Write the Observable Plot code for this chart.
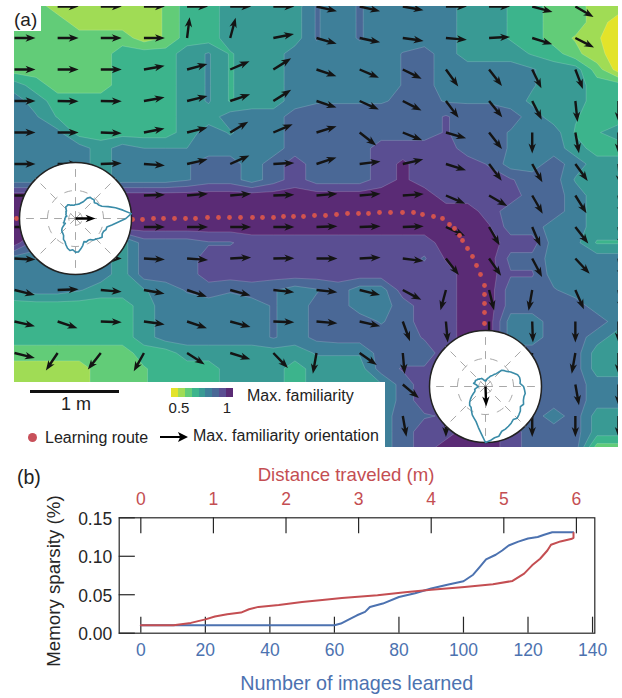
<!DOCTYPE html>
<html><head><meta charset="utf-8">
<script src="https://cdn.jsdelivr.net/npm/d3@7"></script>
<script src="https://cdn.jsdelivr.net/npm/@observablehq/plot@0.6"></script>
<style>
html,body{margin:0;padding:0;background:#fff;font-family:"Liberation Sans",Arial,sans-serif;color:#222}
#page{position:relative;width:622px;height:698px;overflow:hidden}
#page svg{display:block}
.abs{position:absolute;white-space:nowrap;line-height:1}
</style></head><body><div id="page"></div>
<script>
// familiarity level on a 29 x 29 sampling of the floor (1 = lowest band, 9 = highest band)
const familiarityGrid = [
[3,3,2,2,2,2,2,2.6,4,4,5,5,5,5,6.6,6,6.6,6,6,6,6,5,5,4.4,4,3,3,2,2],
[3,3,3,2,2,2,2,2.6,4,4,5,5,5,5,6.6,6,6.6,6,6,6,6,5,5,4.4,4,3,3,2,1],
[3,3,3,3,3,3,2,2.6,4,4,5,5,5,5,6.6,6,6.6,6,6,6,6,5,5,4.4,4,3,2.4,1.6,1],
[3,3,3,3,3,4,4,4,5,5.6,4.4,5,5,6,6,6,6,6,6.55,6.9,6,5,5,5,4.4,4,2.8,1.8,1],
[3,3,3,3,3,4,4,4,5,5.6,4.4,5,5,6,6,6,6,6,6.55,6.9,6,6,6,6,5.6,5,5,3,1],
[5,4,3,3,3,4,4,4,5,5.6,4.4,5,5,6,6,6,6,6,6.55,6.9,6,6,6,6,5.6,5,5,4,4],
[6,5,4,4,4,4,4,4,5,5.6,4.4,5,5,6,6.4,6.4,6.4,6.4,6.7,6.9,6.4,6.4,6.4,6,5.3,5,5,4,4],
[6,5.6,4.4,4,4,4,4,4,5,5,6,6,6,7,7,7,7,7,7,7,7.6,7,7,7,6,5,4.6,4,4],
[6,6,5.8,4,4,4,4,4,5,6,5.4,6,6,7,7,7,7,7,7,7,7.6,7,7,6.4,6,6,4.4,4.4,5],
[6,6,6,6,5,6,5.5,5.5,5.5,6,6,6,6,7,7,7,7,8,8,8,8,7,7,6.4,6,6,5,4,4],
[6,6,6,6,5,6,6,6,6.4,7,7,6,7,8,7,7,7,8,8.7,8,8,8,7.4,6,6,7,6,5,5],
[6,6,6,6,5,6,6,6,6.4,7,7,6,7,8,7,7,7,8,8.7,8,8,8,8,7.6,7,7,5.4,5,5],
[9,9,9,9,9,9,9,9,9,9,9,9,9,9,9,9,9,9,9,9,8,8,8,8,7,7,6,5,5],
[9,9,9,9,9,9,9,9,9,9,9,9,9,9,9,9,9,9,9,9,9,9,8,7,7,7,6,5,5],
[9,9,9,9,9,9,9,9,9,9,9,9,9,9,9,9,9,9,9,9,9,9,8.6,7,7,6,6,5,5],
[9,7,6,6,6,5,7,7,7,7.4,7.4,8,8,8,8,8,8,8,8,8,9,9,9,8,8,6,5.8,4.4,4.4],
[6,6,6,6,6,5,7,7,7,8,8,8,8,8,8,8,8,8,8,7.4,8.6,9,9,7.2,7.2,6,6,6,6],
[6,6,6,6,6,5,7,7,7,8,8,8,8,8,8,8,8,8,7.6,8,8,9,9,7.6,7.6,6,6,6,6],
[5.5,6,6,5.6,5,5,5.4,6,6.6,7,6.6,7,6.6,6,6.4,7,6,6,8,8,8,9,9,7,7,6.6,6,6,6],
[4,4,4,4,4,4,5,6,6,6,6,6,6.6,6,6.8,7,6,6,7,8,8,9,9,7,7,7,7,6,6],
[4,4,4,4,4,4,5,6,6,6,6,6,6.6,6,6.8,7,7,6.4,7,8,8,9,9,6,6,7,7,7,6],
[4,4,4,4,4,4,5,6,6,6,6,6,6.6,6,6.8,7,7,7,7,7.6,8,9,9,6,6,7,7,6,5],
[3,3,3,3,3,3,4,4,5,5,5,5,5,5,5.6,5.6,5.6,7,7,7,8,9,9,7,7,7,7,5,5],
[2,2,2,2,3,3,3.4,4,4,4,5,5,5,4,5,5,5,7,7.6,7.6,8,9,9,7,7,7,7,5,5],
[2,2,2,2,3,3,3.4,4,4,4,5,5,5,4,5,5,5,5.4,7,8,8,9,9,7,7,7,7,6,6],
[2,2,2,2,3,3,3.4,4,4,4,5,5,5,4,5,5,5,5.4,7,8,8,9,9,7,7,7,7,6,6],
[2,2,2,2,3,3,3.4,4,4,4,5,5,5,4,5,5,5,6,7,7.4,7.6,9,9,7,7,6,7,5,5],
[2,2,2,2,3,3,3.4,4,4,4,5,5,5,4,5,5,5,6,7,8,8,9,9,8,7,7,7,5,5],
[2,2,2,2,3,3,3.4,4,4,4,5,5,5,4,5,5,5,6,7,8,9,9,9,8,7,7,7,3,3]
];
const bandEdges = [1.5,2.5,3.5,4.5,5.5,6.5,7.5,8.5];
const bandColors = ["#e3e32a","#a0dc55","#62cc78","#3cb48c","#399a94","#3e7f99","#4a6896","#5a4e92","#5a2b75"];

// max-familiarity heading at each 15 x 15 floor sample, degrees clockwise from north
const headingGrid = [
[90,90,90,90,90,90,90,103,103,100,90,90,105,120,100],
[90,90,90,90,7,15,79,106,102,98,95,87,107,117,100],
[90,90,90,80,75,67,58,109,113,116,144,142,154,159,100],
[90,91,91,80,76,71,58,108,114,117,143,141,153,174,180],
[90,90,92,79,76,59,67,73,128,112,106,142,180,170,180],
[90,90,88,94,77,66,87,72,83,77,107,143,151,144,175],
[90,90,90,88,85,85,88,85,85,86,113,120,150,148,170],
[90,90,90,90,90,90,90,88,88,88,115,150,157,142,170],
[93,90,90,93,94,87,89,90,87,97,142,145,152,137,170],
[104,88,95,100,109,105,96,96,104,118,195,166,190,156,170],
[103,109,92,98,109,105,92,95,103,160,175,180,178,180,180],
[104,214,218,209,123,107,136,190,125,175,180,180,190,190,180],
[100,120,120,120,120,110,120,180,130,130,180,180,180,170,180],
[100,120,120,120,120,110,120,170,170,170,180,180,180,180,180],
[180,180,180,180,180,180,180,180,180,180,180,180,180,180,180]
];

// learning route along the floor
const routeX = [2,13,24,35,46,57,68,79,90,101,112,118,128,139,149,160,171,181,193,204,215,226,238,248,259,269,279,289,300,311,322,333,344,354,365,376,388,399,408,419,428,435,440,445,448,453,458,462,466,470,470,470,470,470,470,470,470,470,470];
const routeY = [212,212,212,212,212,212,212,212,212,212,212,213,213,212,212,212,212,212,211,211,211,211,211,211,211,210,210,210,209,209,208,207,207,207,206,206,206,206,208,210,212,218,222,229,234,242,250,259,268,279,288,297,306,317,328,339,350,361,372];

// polar insets: familiarity by orientation (degrees anticlockwise from east), relative radius
const polarAngles = d3.range(0, 360, 5);
const polarStart = [.9,1,.86,.74,.62,.52,.48,.47,.44,.47,.46,.46,.42,.33,.3,.27,.26,.25,.25,.24,.24,.25,.25,.27,.28,.27,.27,.24,.21,.21,.19,.19,.18,.16,.18,.18,.19,.19,.2,.21,.23,.2,.24,.29,.32,.34,.35,.37,.43,.45,.5,.55,.58,.56,.6,.6,.55,.5,.44,.46,.45,.46,.5,.52,.55,.58,.55,.55,.58,.58,.66,.76];
const polarEnd = [.68,.62,.63,.63,.61,.56,.52,.47,.44,.41,.3,.26,.22,.2,.17,.15,.13,.1,.1,.1,.11,.12,.14,.16,.16,.17,.17,.19,.19,.2,.21,.2,.21,.22,.16,.15,.13,.14,.17,.2,.2,.21,.25,.3,.35,.4,.44,.45,.5,.56,.6,.65,.74,.85,1,.97,.93,.92,.85,.84,.82,.8,.77,.8,.78,.76,.72,.75,.72,.71,.72,.7];
const insetNames = ["start","end"];
const insetX = [61,471];
const insetY = [212,380];
const insetHeading = [90,178];
const insetRadius = 56;

// panel (b)
const blueImages = [0,60,62,65,67,69.5,71,75,80,85,90,95,100,103,105,107,110,112,114,117,120,123,125,127.5,134];
const blueSparsity = [.0103,.0103,.0125,.019,.0233,.0277,.034,.0385,.047,.052,.058,.063,.0675,.076,.086,.096,.102,.1075,.114,.119,.123,.125,.128,.1312,.1312];
const redDistance = [0,.45,.69,.89,1.02,1.19,1.38,1.49,1.62,1.9,2.22,2.5,2.77,3.26,3.64,4,4.46,4.85,5.12,5.28,5.39,5.5,5.6,5.65,5.78,5.94,5.96,5.96];
const redSparsity = [.0104,.0104,.0134,.018,.0216,.0246,.0268,.0311,.0342,.0367,.0406,.0432,.0458,.0493,.0532,.0566,.0601,.0636,.0679,.0774,.0882,.0968,.1075,.115,.1193,.1228,.124,.1306];
const imageTicks = [0,20,40,60,80,100,120,140];
const distanceTicks = [0,1,2,3,4,5,6];
const sparsityTicks = [0,.05,.1,.15];
const imagesPerMeter = 22.5;
const blue = "#4c72b0", red = "#c44e52", ink = "#262626";

const arrowShape = {draw(c, l) {
  c.moveTo(-1.2, 0); c.lineTo(1.2, 0); c.lineTo(1.2, -l + 8);
  c.lineTo(3.7, -l + 10); c.lineTo(0, -l); c.lineTo(-3.7, -l + 10);
  c.lineTo(-1.2, -l + 8); c.closePath();
}};

const stepX = 604 / 14, stepY = 441 / 14;
const headings = headingGrid.flatMap((row, j) => row.map((heading, i) => ({x: i * stepX, y: j * stepY, heading})));
const route = routeX.map((x, i) => ({x, y: routeY[i]}));
const insets = insetNames.map((name, k) => ({name, x: insetX[k], y: insetY[k], heading: insetHeading[k]}));
const polar = (k, deg, r) => ({
  x: insetX[k] + r * insetRadius * Math.cos(deg * Math.PI / 180),
  y: insetY[k] - r * insetRadius * Math.sin(deg * Math.PI / 180)
});
const outlines = [polarStart, polarEnd].flatMap((series, k) => series.map((r, i) => ({...polar(k, polarAngles[i], r), z: k})));
const spokes = insets.flatMap((_, k) => d3.range(0, 360, 45).flatMap(a => [0, 1].map(r => ({...polar(k, a, r), z: `${k}-${a}`}))));
const rings = insets.flatMap((_, k) => [.5, .12].flatMap(r => polarAngles.concat(360).map(a => ({...polar(k, a, r), z: `${k}-${r}`}))));

const mapPlot = Plot.plot({
  width: 622, height: 458, marginLeft: 14, marginRight: 4, marginTop: 6, marginBottom: 11,
  x: {domain: [0, 604], axis: null},
  y: {domain: [0, 441], axis: null, reverse: true},
  color: {type: "threshold", domain: bandEdges, range: bandColors},
  marks: [
    Plot.contour(familiarityGrid.flat(), {
      width: 29, height: 29, x1: -stepX / 4, x2: 604 + stepX / 4, y1: -stepY / 4, y2: 441 + stepY / 4,
      fill: Plot.identity, thresholds: [0, ...bandEdges], stroke: "#fff", strokeOpacity: .28, strokeWidth: .6, clip: true
    }),
    Plot.vector(headings, {x: "x", y: "y", rotate: "heading", length: 21, anchor: "start", shape: arrowShape, fill: "#141414", stroke: "none", clip: true}),
    Plot.dot(route, {x: "x", y: "y", r: 2.4, fill: "#d2534f", clip: true}),
    Plot.dot(insets, {x: "x", y: "y", r: insetRadius, fill: "#fff", stroke: "#222", strokeWidth: 1.5}),
    Plot.line(spokes, {x: "x", y: "y", z: "z", stroke: "#a8a8a8", strokeWidth: 1, strokeDasharray: "7 7"}),
    Plot.line(rings, {x: "x", y: "y", z: "z", stroke: "#a8a8a8", strokeWidth: 1, strokeDasharray: "7 9"}),
    Plot.line(outlines, {x: "x", y: "y", z: "z", curve: "linear-closed", stroke: "#3a8ca8", strokeWidth: 1.6}),
    Plot.vector(insets, {x: "x", y: "y", rotate: "heading", length: 20, anchor: "start", shape: arrowShape, fill: "#000", stroke: "none"})
  ]
});

const x0 = -6.7, tickLen = .0208;
const sparsityPlot = Plot.plot({
  width: 622, height: 243, marginLeft: 118.7, marginRight: 27.7, marginTop: 62.3, marginBottom: 65.3,
  style: {fontFamily: '"Liberation Sans", Arial, sans-serif', fontSize: "17.5px", background: "transparent"},
  x: {domain: [x0, 140.7], axis: null},
  y: {domain: [0, .15], axis: null},
  marks: [
    Plot.ruleX(imageTicks, {y1: 0, y2: tickLen, stroke: ink, strokeWidth: 1.2}),
    Plot.ruleX(distanceTicks.map(d => d * imagesPerMeter), {y1: .15, y2: .15 - tickLen, stroke: ink, strokeWidth: 1.2}),
    Plot.ruleY(sparsityTicks, {x1: x0, x2: x0 + 5, stroke: ink, strokeWidth: 1.2}),
    Plot.frame({stroke: ink, strokeWidth: 1.2}),
    Plot.axisX(imageTicks, {anchor: "bottom", tickSize: 0, tickPadding: 10, color: blue, label: null, tickFormat: d => d}),
    Plot.axisX(distanceTicks.map(d => d * imagesPerMeter), {anchor: "top", tickSize: 0, tickPadding: 13, color: red, label: null, tickFormat: d => Math.round(d / imagesPerMeter)}),
    Plot.axisY(sparsityTicks, {anchor: "left", tickSize: 0, tickPadding: 7, dy: 1.5, color: ink, label: null, tickFormat: ".2f"}),
    Plot.line(blueImages.map((x, i) => ({x, y: blueSparsity[i]})), {x: "x", y: "y", stroke: blue, strokeWidth: 2}),
    Plot.line(redDistance.map((d, i) => ({x: d * imagesPerMeter, y: redSparsity[i]})), {x: "x", y: "y", stroke: red, strokeWidth: 2}),
    Plot.text(["Distance traveled (m)"], {x: 63.6, y: .15, dy: -43, fill: red, fontSize: 18.6}),
    Plot.text(["Number of images learned"], {x: 66.9, y: 0, dy: 50, fill: blue, fontSize: 19.8}),
    Plot.text(["Memory sparsity (%)"], {x: x0, y: .0678, dx: -64.7, rotate: -90, fill: ink, fontSize: 18.7})
  ]
});

const page = document.getElementById("page");
const place = (el, left, top) => { el.style.position = "absolute"; el.style.left = left + "px"; el.style.top = top + "px"; page.appendChild(el); };
place(mapPlot, 0, 0);
place(sparsityPlot, 0, 455);

function box(left, top, w, h, bg) {
  const d = document.createElement("div");
  d.className = "abs";
  d.style.cssText += `left:${left}px;top:${top}px;width:${w}px;height:${h}px;background:${bg}`;
  page.appendChild(d); return d;
}
function label(text, left, centerY, size, anchor) {
  const d = document.createElement("div");
  d.className = "abs"; d.textContent = text;
  d.style.cssText += `left:${left}px;top:${centerY}px;font-size:${size}px;transform:translate(${anchor === "middle" ? "-50%" : "0"},-50%)`;
  page.appendChild(d); return d;
}
// legend panel and panel tags
box(14, 382, 371, 76, "#fff");
box(14, 6, 27, 25, "#fff");
label("(a)", 14, 19, 19);
label("(b)", 17, 478, 19.5);
box(30, 389.5, 89, 3, "#111");
label("1 m", 76, 404, 18, "middle");
const barLeft = 171, swatch = 62 / bandColors.length;
bandColors.forEach((c, i) => box(barLeft + i * swatch, 388, swatch + .3, 9, c));
label("0.5", 179, 407, 15, "middle");
label("1", 227, 407, 15, "middle");
label("Max. familiarity", 247, 396, 16);
const dotEl = box(27.5, 432.5, 9, 9, "#c8505a"); dotEl.style.borderRadius = "50%";
label("Learning route", 45, 437.5, 16);
box(160, 435.8, 20, 2.4, "#000");
const head = box(178, 432, 10, 10, "#000"); head.style.clipPath = "polygon(0 0,100% 50%,0 100%,22% 50%)";
label("Max. familiarity orientation", 193, 436, 16);
</script></body></html>
